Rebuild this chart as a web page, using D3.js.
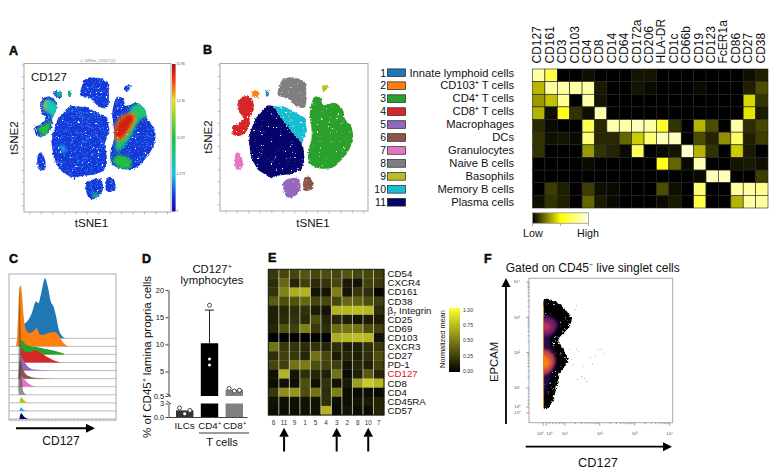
<!DOCTYPE html>
<html><head><meta charset="utf-8">
<script src="https://cdn.jsdelivr.net/npm/d3@7/dist/d3.min.js"></script>
<style>html,body{margin:0;padding:0;background:#fff}svg{display:block}text{font-family:"Liberation Sans",Arial,sans-serif;fill:#111}</style>
</head><body><svg id="c" width="773" height="474"></svg>
<script>
// ---------- panel A / B : tSNE clusters (outlines, tSNE units)
const clusterNames = ["Innate lymphoid cells","CD103⁺ T cells","CD4⁺ T cells","CD8⁺ T cells","Macrophages","DCs","Granulocytes","Naive B cells","Basophils","Memory B cells","Plasma cells"];
const clusterColors = ["#1f77b4","#ff7f0e","#2ca02c","#d62728","#9467bd","#8c564b","#e377c2","#7f7f7f","#bcbd22","#17becf","#04046c"];
const outline1 = [[139,361],[145,361],[145,345],[139,345]];
const outline2 = [[94,353],[106,363],[117,356],[114,340],[99,345]];
const outline3 = [[284,343],[304,338],[309,318],[344,325],[369,303],[374,278],[394,253],[399,218],[389,188],[364,153],[339,131],[299,128],[269,143],[264,178],[274,213],[274,253],[269,288],[276,328]];
const outline4 = [[54,328],[74,345],[96,335],[102,308],[89,278],[89,258],[74,233],[49,225],[39,233],[37,253],[54,261],[69,278],[54,303]];
const outline5 = [[192,88],[234,98],[242,73],[234,53],[209,38],[194,53]];
const outline6 = [[256,103],[269,103],[279,83],[276,65],[254,61],[249,83]];
const outline7 = [[49,175],[59,173],[69,143],[62,125],[49,128],[44,148]];
const outline8 = [[179,378],[186,393],[209,401],[234,398],[256,385],[259,358],[254,311],[229,315],[204,338],[174,348]];
const outline9 = [[306,373],[324,378],[319,363],[312,358]];
const outline10 = [[159,315],[194,313],[254,281],[261,243],[246,201],[222,232],[190,272]];
const outline11 = [[144,318],[159,315],[190,272],[222,232],[249,198],[254,153],[244,123],[214,111],[169,106],[154,98],[114,123],[94,158],[87,203],[89,233],[106,278]];
const clusterOutlines = [outline1,outline2,outline3,outline4,outline5,outline6,outline7,outline8,outline9,outline10,outline11];

// panel A : CD127 intensity patches (normalised on the colour bar)
const patchValues = [0.42,0.5,0.82,0.95,0.72,0.5,0.32,0.36,0.45,0.42,0.22];
const patchOutlines = [
 [[279,205],[314,280],[334,320],[374,317],[386,290],[354,275],[319,215],[284,180]],
 [[272,160],[299,170],[329,150],[319,130],[284,135]],
 [[274,240],[294,283],[329,295],[342,283],[324,245],[296,213],[276,217]],
 [[279,245],[294,275],[324,292],[334,283],[319,250],[294,220],[279,223]],
 [[62,320],[74,335],[84,320],[69,300]],
 [[46,250],[74,265],[84,275],[79,240],[59,227]],
 [[74,335],[104,320],[99,285],[74,295]],
 [[100,355],[122,360],[122,345],[104,347]],
 [[136,365],[148,365],[148,343],[136,343]],
 [[209,55],[234,50],[219,38]],
 [[109,200],[129,195],[124,175]]
];
const jetStops = [0,0.12,0.25,0.5,0.75,0.9,1];
const jetColors = ["#0a0a9c","#1a3fe6","#18c8e0","#20c040","#e8e020","#f03010","#b01010"];
const colorbarLabels = ["32.86","14.36","10.87","4.273","0"];

// ---------- panel B heat map
const markers = ["CD127","CD161","CD3","CD103","CD4","CD8","CD14","CD64","CD172a","CD206","HLA-DR","CD1c","CD66b","CD19","CD123","FcER1a","CD86","CD27","CD38"];
const heatILC  = [.86,.66,0,0,.03,0,0,0,.04,.04,0,0,0,0,0,0,0,.03,.06];
const heatCD103= [.36,.86,.86,.86,.86,.05,0,0,.04,.02,0,0,0,.02,0,0,0,.06,.15];
const heatCD4  = [.3,.38,.82,0,.86,.04,0,0,0,0,0,0,0,0,0,0,0,.42,.1];
const heatCD8  = [.35,.03,.55,.1,.03,.88,0,0,0,0,0,0,0,0,0,0,0,.45,.05];
const heatMac  = [.08,.02,0,0,.68,.08,.88,.86,.9,.86,.6,.1,0,.35,.15,0,.86,.09,.14];
const heatDC   = [.1,.03,.04,.02,.76,.08,.08,.2,.4,.75,.9,.92,0,.15,.07,.28,.72,.06,.12];
const heatGran = [.1,0,0,0,.3,.1,.07,.02,.7,0,.02,.04,.95,.35,.1,0,.4,.05,0];
const heatNaive= [0,0,0,0,.02,0,0,0,0,0,.55,.2,.02,.9,0,0,.04,.05,.03];
const heatBaso = [0,0,0,0,0,0,0,0,0,0,0,0,0,.02,.9,.9,0,0,.12];
const heatMem  = [0,.12,.06,0,.12,.03,.02,0,0,0,.15,.03,0,.75,0,0,.85,.85,.8];
const heatPlasma=[.03,.1,.06,0,.2,.05,.02,0,0,0,.02,.05,0,.65,0,0,.35,.85,.85];
const heatB = [heatILC,heatCD103,heatCD4,heatCD8,heatMac,heatDC,heatGran,heatNaive,heatBaso,heatMem,heatPlasma];

// ---------- panel C ridgeline (intensity, count)
const ridgeBlue = [[31,30],[48,45],[58,55],[68,75],[81,110],[88,105],[95,130],[108,180],[116,155],[125,110],[133,95],[141,65],[148,30],[153,15],[168,0]];
const ridgeOrange = [[21,0],[25,35],[31,170],[35,183],[39,155],[43,100],[51,50],[63,40],[73,45],[83,55],[93,35],[103,35],[118,40],[138,43],[148,33],[163,10],[178,0]];
const ridgeGreen = [[33,0],[38,45],[48,32],[63,25],[83,22],[103,18],[133,12],[165,2]];
const ridgeRed = [[35,0],[38,42],[48,32],[63,30],[78,37],[93,30],[113,17],[133,7],[156,0]];
const ridgePurple = [[31,0],[35,46],[43,31],[58,11],[78,3],[113,1],[153,0]];
const ridgeBrown = [[28,0],[33,55],[43,25],[58,8],[83,2],[138,0]];
const ridgePink = [[31,0],[35,35],[43,25],[58,10],[73,2],[83,0]];
const ridgeGray = [[29,0],[32,325],[35,200],[38,60],[43,10],[53,0]];
const ridgeOlive = [[31,0],[36,17],[48,5],[61,0]];
const ridgeTeal = [[31,0],[36,10],[45,2],[55,0]];
const ridgeNavy = [[31,0],[36,17],[45,7],[58,0]];
const ridges = [ridgeBlue,ridgeOrange,ridgeGreen,ridgeRed,ridgePurple,ridgeBrown,ridgePink,ridgeGray,ridgeOlive,ridgeTeal,ridgeNavy];
const ridgeIds = ["1","2","3","4","5","6","7","8","9","10","11"];

// ---------- panel D
const barNames = ["ILCs","CD4⁺","CD8⁺"];
const barValues = [0.147,10.2,1.65];
const barError = [null,16.3,null];
const barPoints = [[0.2,0.07,0.147],[17.2,7.3,6.2],[1.9,1.4,1.55]];
const upperTicks = [20,15,10,5,0.5];
const lowerTicks = [0.3,0];

// ---------- panel E heat map
const clustersE = ["6","11","9","1","5","4","3","2","8","10","7"];
const markersE = ["CD54","CXCR4","CD161","CD38","β7 Integrin","CD25","CD69","CD103","CXCR3","CD27","PD-1","CD127","CD8","CD4","CD45RA","CD57"];
const heatE = [
 [.22,.28,.28,.33,.28,.30,.28,.33,.28,.28,.25],
 [.18,.40,.15,.25,.17,.20,.28,.10,.08,.25,.22],
 [.20,.50,.68,.70,.08,.08,.50,.08,.22,.18,.03],
 [.35,.30,.32,.40,.28,.28,.28,.40,.38,.30,.25],
 [.12,.15,.18,.20,.10,.08,.70,.72,.75,.72,.18],
 [.12,.17,.20,.17,.30,.15,.15,.12,.08,.10,.10],
 [.14,.32,.25,.50,.22,.18,.42,.45,.45,.30,.25],
 [0,0,0,0,0,0,.68,.72,.75,.72,.08],
 [.45,.22,.20,.17,.20,.15,.18,.10,.12,.18,.22],
 [.18,.25,.22,.15,.45,.28,.10,.15,.12,.18,.30],
 [.28,.25,.45,.48,.30,.25,.25,.08,.15,.12,.25],
 [.07,.70,.08,.18,.15,.12,.45,.04,.12,.35,.15],
 [.05,.06,.05,.30,.06,.20,.08,.10,.62,.80,.72],
 [.22,.55,.58,.30,.45,.18,.50,.05,.04,.05,.04],
 [.07,.06,.06,.08,.07,.18,.05,.05,.08,.10,.14],
 [.05,.05,.05,.07,.07,.70,.04,.08,.05,.05,.15]
];
const arrowClusters = ["11","3","10"];
const legendETicks = [1,.75,.5,.25,0];

// ---------- panel F density (log10 units on both axes)
const densityOuter = [[.40,3.48],[.78,3.41],[1.07,3.15],[1.21,2.92],[1.07,2.63],[.83,2.35],[.97,2.07],[1.11,1.78],[.88,1.41],[.78,1.03],[.68,.65],[.54,.42],[.40,.39]];
const densityLayers = [
 [[.42,3.05],[.66,2.98],[.84,2.85],[.72,2.58],[.58,2.35],[.66,2.07],[.76,1.74],[.60,1.31],[.48,.9],[.42,.7]],
 [[.38,2.96],[.68,2.92],[.76,2.71],[.59,2.49],[.38,2.49]],
 [[.38,2.84],[.59,2.77],[.59,2.65],[.38,2.63]],
 [[.38,2.07],[.64,1.97],[.73,1.74],[.59,1.45],[.38,1.36]],
 [[.38,1.92],[.54,1.83],[.59,1.69],[.49,1.55],[.38,1.55]]
];
const densityValues = [.14,.34,.48,.56,.72];
const strayPoints = [[1.35,3.31],[1.40,2.02],[1.21,1.78],[1.35,2.07],[1.97,2.07],[2.07,2.08],[2.12,1.97],[1.88,1.88],[1.75,1.85],[1.54,1.59],[1.81,1.67],[1.37,1.22],[1.59,1.26],[1.64,1.17],[1.50,1.31],[1.26,1.64],[1.16,2.07],[1.31,3.20]];
const xDecades = [[.38,"-10⁰"],[.47,"10⁰"],[1,"10¹"],[2,"10²"],[3,"10³"],[4,"10⁴"]];
const yDecades = [[.29,"-10⁰"],[.46,"10⁰"],[1,"10¹"],[2,"10²"],[3,"10³"],[4,"10⁴"]];

// ======================================================= drawing
const svg = d3.select("#c");
const defs = svg.append("defs");
function noiseMask(id,freq,k,c,seed,op,disp,blur){
  const f = defs.append("filter").attr("id",id).attr("x","-10%").attr("y","-10%").attr("width","120%").attr("height","120%").attr("color-interpolation-filters","sRGB");
  f.append("feTurbulence").attr("type","fractalNoise").attr("baseFrequency",freq).attr("numOctaves",2).attr("seed",seed).attr("result","n");
  f.append("feColorMatrix").attr("in","n").attr("type","matrix").attr("values",`0 0 0 0 0 0 0 0 0 0 0 0 0 0 0 ${k} 0 0 0 ${c}`).attr("result","m");
  f.append("feComposite").attr("in","SourceGraphic").attr("in2","m").attr("operator",op).attr("result","h");
  f.append("feTurbulence").attr("type","fractalNoise").attr("baseFrequency",.45).attr("numOctaves",2).attr("seed",seed+5).attr("result","n2");
  f.append("feDisplacementMap").attr("in","h").attr("in2","n2").attr("scale",disp).attr("xChannelSelector","R").attr("yChannelSelector","G").attr("result","d");
  f.append("feGaussianBlur").attr("in","d").attr("stdDeviation",blur);
}
noiseMask("holes",.8,14,-10,3,"out",3.2,.3);
noiseMask("dots",.8,14,-8.2,11,"in",3.2,.35);
noiseMask("edge",.9,10,-6.9,7,"out",5,.25);
const soft = defs.append("filter").attr("id","soft").attr("x","-40%").attr("y","-40%").attr("width","180%").attr("height","180%");
soft.append("feGaussianBlur").attr("stdDeviation",1.7);
const soft2 = defs.append("filter").attr("id","soft2").attr("x","-40%").attr("y","-40%").attr("width","180%").attr("height","180%");
soft2.append("feGaussianBlur").attr("stdDeviation",2.2);

function txt(x,y,s,size,anchor="middle",extra={}){
  const t = svg.append("text").attr("x",x).attr("y",y).attr("font-size",size).attr("text-anchor",anchor).text(s);
  Object.entries(extra).forEach(([k,v])=>t.attr(k,v));
  return t;
}
function rot(x,y,s,size,extra={}){
  return txt(0,0,s,size,"middle",extra).attr("transform",`translate(${x},${y}) rotate(-90)`);
}
// panel letters
[["A",9,54.5],["B",203,54],["C",9,263],["D",142,263],["E",268,262],["F",484,263]].forEach(([s,x,y])=>
  txt(x,y,s,12.5,"start",{"font-weight":"bold","stroke":"#000","stroke-width":.5}));

function arrow(x1,y1,x2,y2,w,hl,hw){
  const a = Math.atan2(y2-y1,x2-x1), bx=x2-hl*Math.cos(a), by=y2-hl*Math.sin(a);
  svg.append("line").attr("x1",x1).attr("y1",y1).attr("x2",bx).attr("y2",by).attr("stroke","#000").attr("stroke-width",w);
  svg.append("path").attr("fill","#000").attr("d",d3.line()([[x2,y2],[bx-hw/2*Math.sin(a),by+hw/2*Math.cos(a)],[bx+hw/2*Math.sin(a),by-hw/2*Math.cos(a)]])+"Z");
}

// ---- shared tSNE frame
function frame(x0,x1,y0,y1,domX){
  const x = d3.scaleLinear().domain(domX).range([x0,x1]);
  const y = d3.scaleLinear().domain([0,443]).range([y1,y0]);
  svg.append("rect").attr("x",x0).attr("y",y0).attr("width",x1-x0).attr("height",y1-y0).attr("fill","#fff").attr("stroke","#a8a8a8").attr("stroke-width",1);
  svg.append("g").attr("transform",`translate(0,${y1})`).call(d3.axisBottom(x).tickValues(d3.range(domX[0]+16,domX[1],34.5)).tickSize(2.5).tickFormat("")).call(g=>{g.select(".domain").remove();g.selectAll("line").attr("stroke","#999").attr("stroke-width",.6);});
  svg.append("g").attr("transform",`translate(${x0},0)`).call(d3.axisLeft(y).tickValues(d3.range(20,443,35)).tickSize(2.5).tickFormat("")).call(g=>{g.select(".domain").remove();g.selectAll("line").attr("stroke","#999").attr("stroke-width",.6);});
  return {x,y};
}
const blob = (sx,sy)=>d3.line().x(d=>sx(d[0])).y(d=>sy(d[1])).curve(d3.curveCatmullRomClosed.alpha(.5));
const poly = (sx,sy)=>d3.line().x(d=>sx(d[0])).y(d=>sy(d[1])).curve(d3.curveLinearClosed);

// ---- Panel A
{
  const {x,y} = frame(24,171,63.5,212,[4,446]);
  const jet = d3.scaleLinear().domain(jetStops).range(jetColors);
  const shape = i => (i===9||i===10)?poly(x,y):blob(x,y);
  const cp = defs.append("clipPath").attr("id","cpA");
  clusterOutlines.forEach((o,i)=>cp.append("path").attr("d",shape(i)(o)));
  const base = svg.append("g").attr("filter","url(#holes)");
  clusterOutlines.forEach((o,i)=>base.append("path").attr("d",shape(i)(o)).attr("fill",jet(.1)));
  const dots = svg.append("g").attr("filter","url(#dots)");
  clusterOutlines.forEach((o,i)=>dots.append("path").attr("d",shape(i)(o)).attr("fill",jet(.17)));
  const hot = svg.append("g").attr("clip-path","url(#cpA)").append("g").attr("filter","url(#holes)");
  patchOutlines.forEach((o,i)=>hot.append("path").attr("d",blob(x,y)(o)).attr("fill",jet(patchValues[i])).attr("filter","url(#soft)"));
  txt(31,81,"CD127",11.5,"start");
  txt(91.5,227,"tSNE1",11.6);
  rot(17.5,138,"tSNE2",11.6);
  txt(98,61.5,"c: 1495m_CD127 (λ)",3.8,"middle",{"style":"fill:#777"});
  // colour bar
  const grad = defs.append("linearGradient").attr("id","jetG").attr("x1",0).attr("x2",0).attr("y1",1).attr("y2",0);
  jetStops.forEach((s,i)=>grad.append("stop").attr("offset",s).attr("stop-color",jetColors[i]));
  svg.append("rect").attr("x",172).attr("y",64).attr("width",3.6).attr("height",147.5).attr("fill","url(#jetG)");
  const cb = d3.scaleLinear().domain([0,4]).range([64,211]);
  colorbarLabels.forEach((s,i)=>txt(176.5,cb(i)+1,s,3.4,"start",{"style":"fill:#666"}));
}
// ---- Panel B
{
  const {x,y} = frame(220,368,63.5,211,[0,444]);
  const shape = i => (i===9||i===10)?poly(x,y):blob(x,y);
  const order = [0,1,2,3,4,5,6,7,8,10,9];
  const g = svg.append("g").attr("filter","url(#holes)");
  order.forEach(i=>g.append("path").attr("d",shape(i)(clusterOutlines[i])).attr("fill",clusterColors[i]));
  txt(313,227,"tSNE1",11.6);
  rot(212,137,"tSNE2",11.6);
  // legend
  const ids = clusterNames.map((d,i)=>i);
  const ly = d3.scalePoint().domain(ids).range([72.7,202.3]);
  ids.forEach(i=>{
    svg.append("rect").attr("x",387.5).attr("y",ly(i)-3.8).attr("width",18).attr("height",7.6).attr("fill",clusterColors[i]).attr("stroke","#222").attr("stroke-width",.7);
    txt(386,ly(i)+3.8,String(i+1),10.5,"end");
    txt(514,ly(i)+3.8,clusterNames[i],11.2,"end");
  });
}
// ---- B heat map
{
  const x = d3.scaleBand().domain(markers).range([532.5,768]);
  const y = d3.scaleBand().domain(clusterNames).range([69,208]);
  const col = d3.scaleLinear().domain([0,.5,1]).range(["#000","#ffff00","#ffffe6"]);
  clusterNames.forEach((n,r)=>markers.forEach((m,c)=>{
    svg.append("rect").attr("x",x(m)).attr("y",y(n)).attr("width",x.bandwidth()).attr("height",y.bandwidth()).attr("fill",col(heatB[r][c])).attr("stroke","#222").attr("stroke-width",.6);
  }));
  markers.forEach(m=>rot(0,0,m,12).attr("text-anchor","start").attr("transform",`translate(${x(m)+x.bandwidth()/2+2.8},63.5) rotate(-90)`));
  const g = defs.append("linearGradient").attr("id","heatG");
  [0,.5,1].forEach(s=>g.append("stop").attr("offset",s).attr("stop-color",col(s)));
  svg.append("rect").attr("x",532.5).attr("y",212.8).attr("width",56).attr("height",10.5).attr("fill","url(#heatG)").attr("stroke","#999").attr("stroke-width",.8);
  const lx = d3.scaleLinear().domain([0,1]).range([532.5,588.5]);
  [0,.5,1].forEach(v=>svg.append("line").attr("x1",lx(v)).attr("x2",lx(v)).attr("y1",223.3).attr("y2",226).attr("stroke","#999").attr("stroke-width",.8));
  txt(533,237,"Low",10.8);
  txt(588,237,"High",10.7);
}
// ---- Panel C
{
  const x = d3.scaleLinear().domain([0,320]).range([9,116]);
  const h = d3.scaleLinear().domain([0,100]).range([0,33.4]);
  const base = d3.scalePoint().domain(ridgeIds).range([338.3,419]);
  svg.append("rect").attr("x",9).attr("y",274).attr("width",107).attr("height",146).attr("fill","#fff").attr("stroke","#aaa").attr("stroke-width",1);
  ridgeIds.forEach(id=>svg.append("line").attr("x1",9).attr("x2",116).attr("y1",base(id)).attr("y2",base(id)).attr("stroke","#aaa").attr("stroke-width",.8));
  ridges.forEach((r,i)=>{
    const b = base(ridgeIds[i]);
    const area = d3.area().x(d=>x(d[0])).y0(b).y1(d=>b-h(d[1])).curve(d3.curveMonotoneX);
    svg.append("path").attr("d",area(r)).attr("fill",i===7?"#4a4a4a":clusterColors[i]).attr("opacity",i===7?.6:1);
  });
  svg.append("g").attr("transform","translate(0,420)").call(d3.axisBottom(x).tickValues(d3.range(6,320,11)).tickSize(1.5).tickFormat("")).call(g=>{g.select(".domain").remove();g.selectAll("line").attr("stroke","#999").attr("stroke-width",.5);});
  arrow(16,428.3,95,428.3,2,9,9);
  txt(61,445,"CD127",12);
}
// ---- Panel D
{
  const x = d3.scalePoint().domain(barNames).range([184.7,234.3]);
  const yU = d3.scaleLinear().domain([.5,20]).range([396,290]);
  const yL = d3.scaleLinear().domain([0,.3]).range([417,403.5]);
  const bw = 17.4, fills=["#333","#000","#808080"];
  const axisCol="#444";
  const sty = g=>{g.selectAll("path,line").attr("stroke",axisCol).attr("stroke-width",1);g.selectAll("text").attr("font-size",7.4).attr("dx",1.5).style("fill","#111");};
  barNames.forEach((n,i)=>{
    const v = barValues[i];
    svg.append("rect").attr("x",x(n)-bw/2).attr("width",bw).attr("y",v>.3?yL(.3):yL(v)).attr("height",yL(0)-(v>.3?yL(.3):yL(v))).attr("fill",fills[i]);
    if(v>.5) svg.append("rect").attr("x",x(n)-bw/2).attr("width",bw).attr("y",yU(v)).attr("height",yU(.5)-yU(v)).attr("fill",fills[i]);
    if(barError[i]!=null){
      svg.append("line").attr("x1",x(n)).attr("x2",x(n)).attr("y1",yU(v)).attr("y2",yU(barError[i])).attr("stroke","#222").attr("stroke-width",1);
      svg.append("line").attr("x1",x(n)-4.5).attr("x2",x(n)+4.5).attr("y1",yU(barError[i])).attr("y2",yU(barError[i])).attr("stroke","#222").attr("stroke-width",1);
    }
    barPoints[i].forEach((p,j)=>{
      const cx = i===1? x(n) : x(n)+(j-1)*5.2;
      const cy = p>.5? yU(p): yL(p);
      const big = (i===1&&p>10);
      svg.append("circle").attr("cx",cx).attr("cy",cy).attr("r",big||i!==1?2:1.5).attr("fill","#fff").attr("stroke",i===1&&!big?"none":"#222").attr("stroke-width",.8);
    });
  });
  svg.append("g").attr("transform","translate(168.5,0)").call(d3.axisLeft(yU).tickValues(upperTicks).tickSize(3).tickSizeOuter(0).tickFormat(d=>d===.5?"0.5":d)).call(sty);
  svg.append("g").attr("transform","translate(168.5,0)").call(d3.axisLeft(yL).tickValues(lowerTicks).tickSize(3).tickSizeOuter(0).tickFormat(d=>d===0?"0.0":"3")).call(sty);
  svg.append("g").attr("transform","translate(0,417)").call(d3.axisBottom(d3.scaleLinear().domain([168.5,247]).range([168.5,247])).tickValues([]).tickSize(0)).call(g=>g.select(".domain").attr("stroke",axisCol).attr("stroke-width",1));
  [[396,393.5],[403.5,401]].forEach(([a,b])=>svg.append("line").attr("x1",166.5).attr("x2",171).attr("y1",b).attr("y2",a+.5).attr("stroke","#222").attr("stroke-width",.9));
  barNames.forEach(n=>txt(x(n),428.5,n,9.8));
  svg.append("line").attr("x1",199).attr("x2",249).attr("y1",433).attr("y2",433).attr("stroke","#222").attr("stroke-width",.9);
  txt(222,445.5,"T cells",11);
  txt(212,272.5,"CD127⁺",11.3);
  txt(212,284,"lymphocytes",11.3);
  rot(151,357,"% of CD45⁺ lamina propria cells",11.5);
}
// ---- Panel E
{
  const x = d3.scaleBand().domain(clustersE).range([268.3,384]);
  const y = d3.scaleBand().domain(markersE).range([269.3,415]);
  const col = d3.scaleLinear().domain([0,1]).range(["#000","#ffff30"]);
  markersE.forEach((m,r)=>clustersE.forEach((c,k)=>{
    svg.append("rect").attr("x",x(c)).attr("y",y(m)).attr("width",x.bandwidth()+.3).attr("height",y.bandwidth()+.3).attr("fill",col(heatE[r][k]));
  }));
  clustersE.slice(1).forEach(c=>svg.append("line").attr("x1",x(c)).attr("x2",x(c)).attr("y1",269.3).attr("y2",415).attr("stroke","#cfcfc0").attr("stroke-width",.8));
  svg.append("rect").attr("x",268.3).attr("y",269.3).attr("width",115.7).attr("height",145.7).attr("fill","none").attr("stroke","#111").attr("stroke-width",1);
  markersE.forEach(m=>{
    const t = txt(387.5,y(m)+y.bandwidth()/2+3.4,"",9.7,"start");
    if(m==="CD127") t.text(m).style("fill","#e0141e");
    else if(m.startsWith("β7")){ t.text("β"); t.append("tspan").attr("font-size",6).attr("dy",2).text("7"); t.append("tspan").attr("dy",-2).text(" Integrin"); }
    else t.text(m);
  });
  clustersE.forEach(c=>txt(x(c)+x.bandwidth()/2,425,c,6.4,"middle",{"style":"fill:#333"}));
  arrowClusters.forEach(c=>arrow(x(c)+x.bandwidth()/2,451.5,x(c)+x.bandwidth()/2,427.7,2,9,9.5));
  const g = defs.append("linearGradient").attr("id","eG").attr("x1",0).attr("x2",0).attr("y1",1).attr("y2",0);
  [0,1].forEach(s=>g.append("stop").attr("offset",s).attr("stop-color",col(s)));
  svg.append("rect").attr("x",449).attr("y",308).attr("width",11).attr("height",64).attr("fill","url(#eG)");
  const ly = d3.scaleLinear().domain([0,1]).range([371.2,310]);
  legendETicks.forEach(v=>txt(463,ly(v)+1.8,d3.format(".2f")(v),5.2,"start",{"style":"fill:#333"}));
  rot(445,339,"Normalized mean",7.4);
}
// ---- Panel F
{
  const x = d3.scaleLinear().domain([-.012,4.104]).range([529,672.7]);
  const y = d3.scaleLinear().domain([0,4.09]).range([422.7,278.3]);
  svg.append("rect").attr("x",529).attr("y",278.3).attr("width",143.7).attr("height",144.4).attr("fill","#fff").attr("stroke","#aaa").attr("stroke-width",1);
  const cp = defs.append("clipPath").attr("id","cpF");
  cp.append("rect").attr("x",x(.4)).attr("y",278).attr("width",140).attr("height",145);
  const shape = blob(x,y);
  const clipG = svg.append("g").attr("clip-path","url(#cpF)");
  clipG.append("path").attr("d",shape(densityOuter)).attr("fill","#000").attr("filter","url(#edge)");
  const inner = clipG.append("g");
  densityLayers.forEach((o,i)=>inner.append("path").attr("d",shape(o)).attr("fill",d3.interpolateInferno(densityValues[i])).attr("filter",i?"url(#soft)":"url(#soft2)"));
  svg.append("line").attr("x1",x(.405)).attr("x2",x(.405)).attr("y1",y(3.3)).attr("y2",y(.42)).attr("stroke","#f0901e").attr("stroke-width",.8);
  svg.selectAll(null).data(strayPoints).enter().append("circle").attr("cx",d=>x(d[0])).attr("cy",d=>y(d[1])).attr("r",.4).attr("fill","#333");
  const tickG = sel=>{sel.select(".domain").remove();sel.selectAll("line").attr("stroke","#555").attr("stroke-width",.5);sel.selectAll("text").attr("font-size",4.2).style("fill","#555");};
  const minor = [];
  [1,2,3].forEach(n=>[2,3,4,5,6,7,8,9].forEach(k=>minor.push(n+Math.log10(k))));
  svg.append("g").attr("transform","translate(0,422.7)").call(d3.axisBottom(x).tickValues(xDecades.map(d=>d[0])).tickSize(3).tickPadding(6).tickFormat(d=>xDecades.find(e=>e[0]===d)[1])).call(tickG)
    .selectAll("text").attr("text-anchor",d=>d<.4?"end":d<.5?"start":"middle");
  svg.append("g").attr("transform","translate(0,422.7)").call(d3.axisBottom(x).tickValues(minor.concat([.55,.65,.75,.85,.93])).tickSize(1.5).tickFormat("")).call(tickG);
  svg.append("g").attr("transform","translate(529,0)").call(d3.axisLeft(y).tickValues(yDecades.map(d=>d[0])).tickSize(3).tickPadding(6).tickFormat(d=>yDecades.find(e=>e[0]===d)[1])).call(tickG);
  svg.append("g").attr("transform","translate(529,0)").call(d3.axisLeft(y).tickValues(minor.concat([.55,.65,.75,.85,.93])).tickSize(1.5).tickFormat("")).call(tickG);
  arrow(506,424,506,278,1.8,9,9);
  arrow(525.7,446.7,672,446.7,1.8,9,9);
  txt(598,466.5,"CD127",12.8);
  rot(498,362,"EPCAM",11.3);
  txt(592.7,272,"Gated on CD45⁻ live singlet cells",12);
}
</script></body></html>
